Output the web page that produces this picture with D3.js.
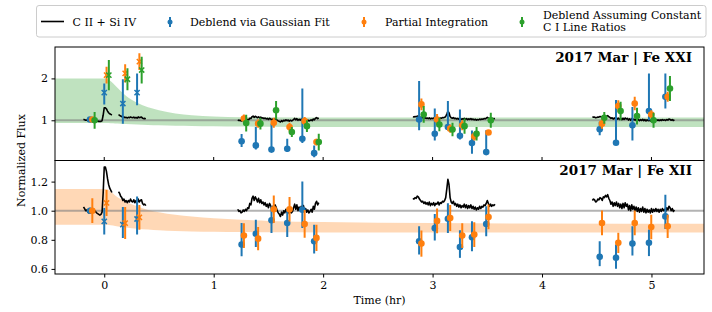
<!DOCTYPE html>
<html>
<head>
<meta charset="utf-8">
<script src="https://cdn.jsdelivr.net/npm/d3@7"></script>
<style>
  body { margin: 0; background: #fff; }
  svg { display: block; font-family: "DejaVu Serif", serif; }
</style>
</head>
<body>
<svg width="712" height="312"></svg>
<script>
let width = 712, height = 312;

// ---- data ----
// times of the measured points (hr)
const ptT = [-0.13, 0.0, 0.17, 0.30, 1.255, 1.385, 1.528, 1.672, 1.81, 1.918,
             2.877, 3.02, 3.14, 3.25, 3.36, 3.49, 4.527, 4.676, 4.826, 4.977, 5.127];
// 'x' marker for the flare points, circle otherwise
const ptMarker = ["o", "x", "x", "x", "o", "o", "o", "o", "o", "o",
                  "o", "o", "o", "o", "o", "o", "o", "o", "o", "o", "o"];

// Fe XXI
const fe21Gauss   = [1.02, 1.66, 1.40, 1.66, 0.50, 0.40, 0.30, 0.32, 0.56, 0.215,
                     1.02, 0.68, 0.84, 0.63, 0.456, 0.24, 0.784, 0.465, 0.88, 1.22, 1.56];
const fe21GaussLo = [0.05, 0.28, 0.48, 0.30, 0.14, 0.10, 0.06, 0.08, 0.10, 0.10,
                     0.26, 0.16, 0.08, 0.09, 0.256, 0.04, 0.14, 0.03, 0.36, 0.22, 0.28];
const fe21GaussHi = [0.05, 0.22, 0.58, 0.46, 0.17, 0.44, 0.62, 0.24, 1.20, 0.185,
                     0.92, 0.60, 0.62, 0.63, 0.30, 0.52, 0.18, 1.02, 0.44, 0.90, 0.56];
const fe21Partial    = [1.02, 2.08, 2.12, 2.40, 1.04, 0.92, 0.94, 0.84, 0.98, 0.48,
                        1.38, 1.02, 0.80, 0.88, 0.616, 0.71, 0.92, 1.34, 1.40, 1.14, 1.56];
const fe21PartialErr = [0.06, 0.20, 0.22, 0.20, 0.10, 0.10, 0.12, 0.10, 0.10, 0.08,
                        0.14, 0.13, 0.10, 0.12, 0.10, 0.06, 0.12, 0.14, 0.16, 0.10, 0.12];
const fe21Ratio    = [1.00, 2.08, 1.98, 2.20, 0.935, 0.92, 1.24, 0.72, 0.86, 0.48,
                      1.14, 0.90, 0.78, 0.86, 0.68, 1.00, 1.06, 1.22, 1.10, 1.00, 1.76];
const fe21RatioErr = [0.20, 0.36, 0.26, 0.32, 0.20, 0.14, 0.22, 0.12, 0.14, 0.20,
                      0.20, 0.16, 0.16, 0.18, 0.16, 0.18, 0.14, 0.22, 0.20, 0.18, 0.30];

// Fe XII
const fe12Gauss   = [1.00, 0.927, 0.904, 0.943, 0.767, 0.842, 0.934, 0.915, 1.007, 0.79,
                     0.79, 0.88, 0.945, 0.751, 0.817, 0.909, 0.683, 0.676, 0.774, 0.779, 0.961];
const fe12GaussLo = [0.02, 0.091, 0.091, 0.107, 0.08, 0.091, 0.087, 0.096, 0.126, 0.084,
                     0.091, 0.084, 0.098, 0.075, 0.096, 0.084, 0.064, 0.075, 0.082, 0.091, 0.087];
const fe12GaussHi = [0.02, 0.091, 0.121, 0.155, 0.148, 0.096, 0.096, 0.091, 0.194, 0.114,
                     0.103, 0.098, 0.107, 0.114, 0.11, 0.121, 0.107, 0.091, 0.119, 0.091, 0.148];
const fe12Partial    = [1.00, 1.053, 0.915, 0.954, 0.829, 0.808, 1.01, 1.01, 0.909, 0.813,
                        0.774, 0.93, 0.95, 0.829, 0.836, 0.957, 0.916, 0.779, 0.916, 0.888, 0.893];
const fe12PartialErr = [0.085, 0.09, 0.11, 0.085, 0.085, 0.08, 0.095, 0.085, 0.095, 0.09,
                        0.09, 0.085, 0.09, 0.085, 0.085, 0.085, 0.085, 0.07, 0.085, 0.085, 0.08];

// model bands
const bandT        = [-0.45, 0.02, 0.06, 0.10, 0.15, 0.20, 0.30, 0.40, 0.50, 0.65, 0.80, 1.00, 1.25, 1.50, 2.00, 3.00, 4.00, 5.48];
const fe21BandHi   = [2.00, 2.00, 1.93, 1.83, 1.70, 1.58, 1.42, 1.31, 1.24, 1.16, 1.12, 1.09, 1.075, 1.07, 1.065, 1.065, 1.065, 1.065];
const fe21BandLo   = [0.935, 0.935, 0.93, 0.925, 0.92, 0.91, 0.90, 0.89, 0.88, 0.87, 0.865, 0.855, 0.85, 0.845, 0.84, 0.84, 0.84, 0.84];
const fe12BandHi   = [1.15, 1.15, 1.13, 1.105, 1.08, 1.06, 1.03, 1.005, 0.99, 0.972, 0.96, 0.948, 0.938, 0.93, 0.922, 0.915, 0.912, 0.91];
const fe12BandLo   = [0.904, 0.904, 0.90, 0.895, 0.89, 0.885, 0.876, 0.87, 0.865, 0.86, 0.857, 0.855, 0.853, 0.852, 0.851, 0.85, 0.85, 0.85];

// C II + Si IV light curve, in segments (start time, 0.01 hr step)
const lcStep = 0.01;
const lcSegments = [
  { t0: -0.19, v: [1.025, 1.015, 1.0, 1.005, 0.99, 0.985, 1.0, 0.995, 1.0, 0.99, 1.0, 0.995, 0.985, 0.98,
                   0.975, 0.97, 0.975, 0.99, 1.12, 1.30, 1.30, 1.27, 1.22, 1.18, 1.155, 1.14, 1.125] },
  { t0: 0.13, v: [1.13, 1.12, 1.10, 1.09, 1.07, 1.08, 1.06, 1.07, 1.055, 1.07, 1.06, 1.08, 1.065, 1.06,
                  1.075, 1.055, 1.07, 1.05, 1.08, 1.06, 1.07, 1.075, 1.05, 1.04, 1.045, 1.035] },
  { t0: 1.22, v: [1.010, 0.995, 1.000, 0.985, 0.990, 1.005, 0.995, 1.010, 1.000, 1.020, 1.015, 1.050, 1.040,
                  1.085, 1.100, 1.070, 1.095, 1.080, 1.060, 1.085, 1.055, 1.075, 1.050, 1.060, 1.040, 1.055,
                  1.030, 1.045, 1.020, 1.050, 1.035, 1.010, 1.030, 1.015, 1.040, 1.025, 1.000, 0.985, 0.975,
                  0.960, 0.990, 0.970, 1.000, 0.985, 1.010, 0.990, 1.005, 0.980, 1.000, 0.985, 0.995, 1.020,
                  1.045, 1.010, 1.040, 1.000, 1.025, 1.005, 1.030, 1.010, 1.035, 1.000, 1.015, 0.990, 1.005,
                  0.985, 0.995, 1.010, 0.990, 1.030, 1.010, 1.050, 1.065, 1.040, 1.055] },
  { t0: 2.82, v: [1.085, 1.080, 1.090, 1.085, 1.100, 1.095, 1.080, 1.070, 1.060, 1.065, 1.050, 1.060, 1.045,
                  1.055, 1.040, 1.060, 1.035, 1.050, 1.040, 1.055, 1.035, 1.050, 1.045, 1.060, 1.040, 1.055,
                  1.050, 1.065, 1.060, 1.070, 1.090, 1.150, 1.215, 1.180, 1.090, 1.060, 1.050, 1.065, 1.040,
                  1.050, 1.030, 1.045, 1.025, 1.040, 1.020, 1.035, 1.025, 1.045, 1.020, 1.040, 1.015, 1.035,
                  1.020, 1.040, 1.015, 1.030, 1.010, 1.025, 1.005, 1.020, 1.010, 1.030, 1.015, 1.030, 1.025,
                  1.040, 1.035, 1.050, 1.070, 1.050, 1.030, 1.045, 1.030, 1.040, 1.035, 1.045] },
  { t0: 4.46, v: [1.070, 1.080, 1.075, 1.060, 1.065, 1.080, 1.075, 1.090, 1.085, 1.070, 1.095, 1.090, 1.105,
                  1.095, 1.110, 1.085, 1.070, 1.045, 1.060, 1.030, 1.055, 1.035, 1.060, 1.030, 1.050, 1.020,
                  1.045, 1.015, 1.050, 1.020, 1.055, 1.030, 1.045, 1.005, 1.035, 1.000, 1.040, 1.010, 1.030,
                  1.000, 1.025, 0.995, 1.020, 0.990, 1.015, 0.995, 1.025, 0.990, 1.015, 0.985, 1.010, 0.990,
                  1.005, 0.985, 1.015, 0.990, 1.010, 0.995, 1.015, 0.995, 1.010, 0.990, 1.010, 0.995, 1.015,
                  1.000, 1.010, 0.995, 1.020, 1.005, 1.030, 1.020, 1.000, 1.015, 0.995, 1.005] }
];

const xTicks = [0, 1, 2, 3, 4, 5];
const fe21Ticks = [1, 2];
const fe12Ticks = [0.6, 0.8, 1.0, 1.2];

// ---- layout ----
const left = 55, right = 704;
const topTop = 47, midY = 160.5, botBottom = 274;

const blue = "#1f77b4", orange = "#ff7f0e", green = "#2ca02c";

let svg = d3.select("svg");

let x = d3.scaleLinear().domain([-0.45, 5.48]).range([left, right]);
let yTop = d3.scaleLinear().domain([0.04, 2.75]).range([midY, topTop]);
let yBot = d3.scaleLinear().domain([0.565, 1.345]).range([botBottom, midY]);

let defs = svg.append("defs");
defs.append("clipPath").attr("id", "clipTop").append("rect")
    .attr("x", left).attr("y", topTop).attr("width", right - left).attr("height", midY - topTop);
defs.append("clipPath").attr("id", "clipBot").append("rect")
    .attr("x", left).attr("y", midY).attr("width", right - left).attr("height", botBottom - midY);

// light curve points
let lcData = lcSegments.map(s => s.v.map((v, i) => [s.t0 + i * lcStep, v]));

function drawPanel(y, clip, bandHi, bandLo, bandColor, series, ticks, tickFmt, title, showXLabels) {
    let g = svg.append("g");
    let inner = g.append("g").attr("clip-path", "url(#" + clip + ")");

    // model band
    let area = d3.area()
        .x((d, i) => x(bandT[i]))
        .y0((d, i) => y(bandLo[i]))
        .y1(d => y(d))
        .curve(d3.curveMonotoneX);
    inner.append("path")
        .attr("d", area(bandHi))
        .attr("fill", bandColor)
        .attr("fill-opacity", 0.3);

    // reference line at 1
    inner.append("line")
        .attr("x1", left).attr("x2", right)
        .attr("y1", y(1)).attr("y2", y(1))
        .attr("stroke", "gray").attr("stroke-opacity", 0.6).attr("stroke-width", 2);

    // C II + Si IV
    let line = d3.line().x(d => x(d[0])).y(d => y(d[1]));
    lcData.forEach(seg => {
        inner.append("path")
            .attr("d", line(seg))
            .attr("fill", "none")
            .attr("stroke", "black")
            .attr("stroke-width", 1.6)
            .attr("stroke-linejoin", "round");
    });

    // error bar series
    series.forEach(s => {
        let sg = inner.append("g");
        ptT.forEach((t, i) => {
            let cx = x(t + s.dt);
            let v = s.v[i];
            sg.append("line")
                .attr("x1", cx).attr("x2", cx)
                .attr("y1", y(v - s.lo[i])).attr("y2", y(v + s.hi[i]))
                .attr("stroke", s.color).attr("stroke-width", 2);
            if (ptMarker[i] === "x") {
                let r = 2.6;
                sg.append("path")
                    .attr("d", `M${cx - r},${y(v) - r}L${cx + r},${y(v) + r}M${cx - r},${y(v) + r}L${cx + r},${y(v) - r}`)
                    .attr("stroke", s.color).attr("stroke-width", 1.5);
            } else {
                sg.append("circle")
                    .attr("cx", cx).attr("cy", y(v)).attr("r", 3.3)
                    .attr("fill", s.color);
            }
        });
    });

    // frame
    g.append("rect")
        .attr("x", left).attr("y", y.range()[1])
        .attr("width", right - left).attr("height", y.range()[0] - y.range()[1])
        .attr("fill", "none").attr("stroke", "black").attr("stroke-width", 1);

    // y axis
    let yAxis = d3.axisLeft(y).tickValues(ticks).tickFormat(tickFmt).tickSize(3.5).tickPadding(3.5);
    let ya = g.append("g").attr("transform", `translate(${left},0)`).call(yAxis);
    ya.select(".domain").remove();
    ya.selectAll("text").attr("font-family", "DejaVu Serif").attr("font-size", 11).attr("fill", "black");

    // x axis
    if (showXLabels) {
        let xAxis = d3.axisBottom(x).tickValues(xTicks).tickFormat(d3.format("d")).tickSize(3.5).tickPadding(3.5);
        let xa = g.append("g").attr("transform", `translate(0,${y.range()[0]})`).call(xAxis);
        xa.select(".domain").remove();
        xa.selectAll("text").attr("font-family", "DejaVu Serif").attr("font-size", 11).attr("fill", "black");
    } else {
        g.append("g").selectAll("line").data(xTicks).enter().append("line")
            .attr("x1", d => x(d)).attr("x2", d => x(d))
            .attr("y1", y.range()[0] - 3.5).attr("y2", y.range()[0])
            .attr("stroke", "black");
    }

    // panel title
    g.append("text")
        .attr("x", 692).attr("y", y.range()[1] + 14.5)
        .attr("text-anchor", "end")
        .attr("font-weight", "bold")
        .attr("font-size", 13.5)
        .text(title);
}

drawPanel(yTop, "clipTop", fe21BandHi, fe21BandLo, green, [
    { v: fe21Gauss, lo: fe21GaussLo, hi: fe21GaussHi, color: blue, dt: 0 },
    { v: fe21Partial, lo: fe21PartialErr, hi: fe21PartialErr, color: orange, dt: 0.021 },
    { v: fe21Ratio, lo: fe21RatioErr, hi: fe21RatioErr, color: green, dt: 0.042 }
], fe21Ticks, d3.format("d"), "2017 Mar | Fe XXI", false);

drawPanel(yBot, "clipBot", fe12BandHi, fe12BandLo, orange, [
    { v: fe12Gauss, lo: fe12GaussLo, hi: fe12GaussHi, color: blue, dt: 0 },
    { v: fe12Partial, lo: fe12PartialErr, hi: fe12PartialErr, color: orange, dt: 0.021 }
], fe12Ticks, d3.format(".1f"), "2017 Mar | Fe XII", true);

// axis labels
svg.append("text")
    .attr("x", (left + right) / 2).attr("y", 304)
    .attr("text-anchor", "middle").attr("font-size", 11)
    .text("Time (hr)");
svg.append("text")
    .attr("transform", `translate(25,${(topTop + botBottom) / 2}) rotate(-90)`)
    .attr("text-anchor", "middle").attr("font-size", 11)
    .text("Normalized Flux");

// legend
let legend = svg.append("g");
legend.append("rect")
    .attr("x", 36.5).attr("y", 5.5).attr("width", 669.5).attr("height", 31.5)
    .attr("rx", 2.5)
    .attr("fill", "white").attr("fill-opacity", 0.8)
    .attr("stroke", "#cccccc").attr("stroke-width", 1);

legend.append("line")
    .attr("x1", 41).attr("x2", 64).attr("y1", 21.5).attr("y2", 21.5)
    .attr("stroke", "black").attr("stroke-width", 1.6);
legend.append("text").attr("x", 72.5).attr("y", 25.5).attr("font-size", 11).text("C II + Si IV");

let legItems = [
    { x: 170, color: blue, tx: 190, lines: ["Deblend via Gaussian Fit"] },
    { x: 364, color: orange, tx: 385, lines: ["Partial Integration"] },
    { x: 522, color: green, tx: 543, lines: ["Deblend Assuming Constant", "C I Line Ratios"] }
];
legItems.forEach(it => {
    legend.append("line")
        .attr("x1", it.x).attr("x2", it.x).attr("y1", 17).attr("y2", 27)
        .attr("stroke", it.color).attr("stroke-width", 2);
    legend.append("circle")
        .attr("cx", it.x).attr("cy", 22).attr("r", 2.5).attr("fill", it.color);
    let tx = legend.append("text").attr("font-size", 11);
    if (it.lines.length === 1) {
        tx.attr("x", it.tx).attr("y", 25.5).text(it.lines[0]);
    } else {
        it.lines.forEach((l, k) => {
            legend.append("text").attr("x", it.tx).attr("y", 19 + k * 12).attr("font-size", 11).text(l);
        });
    }
});
</script>
</body>
</html>
